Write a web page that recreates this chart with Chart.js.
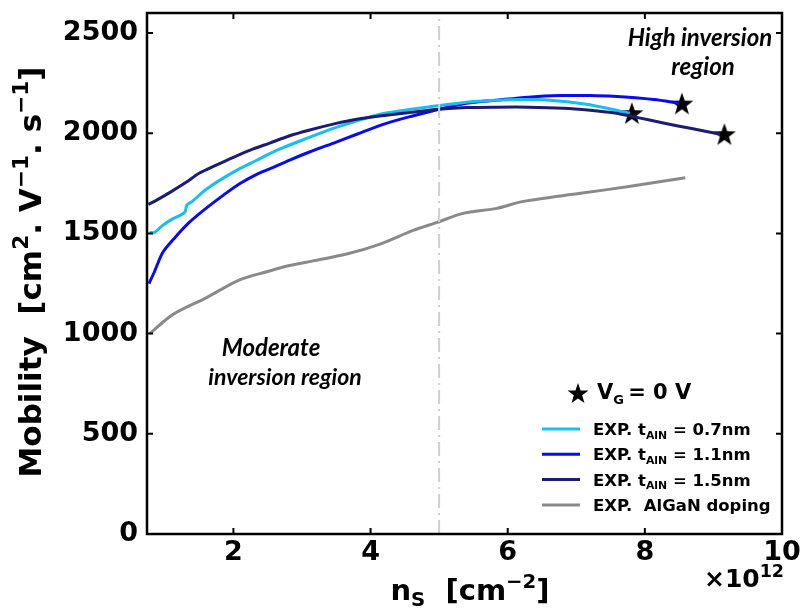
<!DOCTYPE html>
<html>
<head>
<meta charset="utf-8">
<script src="https://cdn.jsdelivr.net/npm/chart.js@4.4.0/dist/chart.umd.min.js"></script>
<style>
  html, body { margin: 0; background: #fff; }
</style>
</head>
<body>
<canvas id="mob" width="811" height="610"></canvas>
<script>
// ── Data ──────────────────────────────────────────────────────────────────

const X_TICKS = [2, 4, 6, 8, 10];
const Y_TICKS = [0, 500, 1000, 1500, 2000, 2500];

// EXP. t_AlN = 0.7nm
const ns07 = [0.78, 0.85, 0.95, 1.10, 1.29, 1.32, 1.40, 1.61, 2.0, 2.34, 2.53, 2.68, 3.0, 3.5, 4.14, 4.5, 5.0, 5.5, 5.84, 6.2, 6.57, 7.15, 7.54, 7.78];
const mu07 = [1505, 1505, 1535, 1570, 1605, 1640, 1660, 1722, 1806, 1865, 1898, 1922, 1965, 2029, 2095, 2115, 2138, 2158, 2165, 2168, 2166, 2145, 2118, 2100];

// EXP. t_AlN = 1.1nm
const ns11 = [0.77, 0.85, 0.97, 1.15, 1.36, 1.6, 1.85, 2.09, 2.34, 2.53, 2.82, 3.1, 3.5, 3.8, 4.23, 4.6, 5.0, 5.4, 5.84, 6.3, 6.76, 7.2, 7.54, 8.13, 8.5];
const mu11 = [1250, 1310, 1405, 1480, 1556, 1625, 1690, 1748, 1795, 1822, 1866, 1905, 1956, 1995, 2049, 2085, 2120, 2150, 2165, 2180, 2188, 2188, 2184, 2168, 2150];

// EXP. t_AlN = 1.5nm
const ns15 = [0.76, 0.9, 1.1, 1.31, 1.5, 1.75, 2.0, 2.29, 2.53, 2.8, 3.1, 3.5, 3.8, 4.23, 4.6, 5.0, 5.4, 5.84, 6.3, 6.81, 7.2, 7.54, 7.9, 8.27, 8.7, 9.1];
const mu15 = [1645, 1670, 1710, 1755, 1800, 1841, 1880, 1922, 1951, 1985, 2015, 2049, 2070, 2090, 2105, 2120, 2128, 2130, 2130, 2125, 2115, 2102, 2078, 2051, 2022, 1995];

// EXP. AlGaN doping
const nsDop = [0.78, 1.12, 1.61, 2.09, 2.5, 2.82, 3.16, 3.65, 4.14, 4.62, 4.97, 5.35, 5.84, 6.23, 7.06, 7.79, 8.59];
const muDop = [1000, 1096, 1180, 1268, 1310, 1340, 1363, 1397, 1447, 1515, 1555, 1600, 1625, 1660, 1700, 1735, 1778];

// V_G = 0 V end points
const nsStar = [7.81, 8.54, 9.16];
const muStar = [2100, 2148, 1995];

// moderate / high inversion boundary
const nsBound = [5, 5];
const muBound = [0, 2600];

const C_07  = '#16bff0';
const C_11  = '#0a0af0';
const C_15  = '#1c1c72';
const C_DOP = '#8a8a8a';

const pts = (xs, ys) => xs.map((x, i) => ({ x, y: ys[i] }));

// ── Star marker ───────────────────────────────────────────────────────────

function makeStar(size) {
  const c = document.createElement('canvas');
  c.width = c.height = size;
  const g = c.getContext('2d');
  const R = size / 2, r = R * 0.4;
  g.fillStyle = '#000';
  g.beginPath();
  for (let i = 0; i < 10; i++) {
    const a = -Math.PI / 2 + i * Math.PI / 5;
    const rr = i % 2 ? r : R;
    g.lineTo(R + rr * Math.cos(a), R + 1 + rr * Math.sin(a));
  }
  g.closePath();
  g.fill();
  return c;
}
const STAR = makeStar(24);
const STAR_SMALL = makeStar(22);

// ── Rich text helper (sub / superscripts) ─────────────────────────────────

function richWidth(ctx, parts, size, fam, k) {
  let w = 0;
  parts.forEach(p => {
    const s = p[1] ? size * k : size;
    ctx.font = `bold ${s}px ${fam}`;
    w += ctx.measureText(p[0]).width;
  });
  return w;
}

function drawRich(ctx, parts, x, y, size, fam, align, k = 0.62) {
  const w = richWidth(ctx, parts, size, fam, k);
  let cx = align === 'center' ? x - w / 2 : x;
  ctx.textBaseline = 'alphabetic';
  ctx.textAlign = 'left';
  parts.forEach(p => {
    const s = p[1] ? size * k : size;
    ctx.font = `bold ${s}px ${fam}`;
    const dy = p[1] === 1 ? -size * 0.42 : p[1] === -1 ? size * 0.22 : 0;
    ctx.fillText(p[0], cx, y + dy);
    cx += ctx.measureText(p[0]).width;
  });
}

const DV = "'DejaVu Sans'";

// ── Frame, inward ticks, labels, legend ───────────────────────────────────

const decor = {
  id: 'decor',
  afterDatasetsDraw(chart) {
    const { ctx, chartArea: a, scales: { x, y } } = chart;
    ctx.save();
    ctx.strokeStyle = '#000';
    ctx.lineWidth = 2.5;
    ctx.strokeRect(a.left, a.top, a.right - a.left, a.bottom - a.top);

    ctx.lineWidth = 2;
    ctx.beginPath();
    X_TICKS.slice(0, -1).forEach(v => {
      const px = x.getPixelForValue(v);
      ctx.moveTo(px, a.bottom); ctx.lineTo(px, a.bottom - 6);
      ctx.moveTo(px, a.top);    ctx.lineTo(px, a.top + 6);
    });
    Y_TICKS.slice(1).forEach(v => {
      const py = y.getPixelForValue(v);
      ctx.moveTo(a.left, py);  ctx.lineTo(a.left + 6, py);
      ctx.moveTo(a.right, py); ctx.lineTo(a.right - 6, py);
    });
    ctx.stroke();

    ctx.fillStyle = '#000';
    // axis titles
    drawRich(ctx, [['n', 0], ['S', -1], ['  [cm', 0], ['−2', 1], [']', 0]], 470, 600, 29, DV, 'center', 0.68);
    drawRich(ctx, [['×10', 0], ['12', 1]], 744, 587, 25, DV, 'center', 0.7);

    ctx.save();
    ctx.translate(41, 272);
    ctx.rotate(-Math.PI / 2);
    drawRich(ctx, [['Mobility  [cm', 0], ['2', 1], ['. V', 0], ['−1', 1], ['. s', 0], ['−1', 1], [']', 0]], 0, 0, 31, DV, 'center', 0.7);
    ctx.restore();

    // region notes
    ctx.font = "italic bold 24px Lato";
    ctx.textAlign = 'center';
    ctx.textBaseline = 'middle';
    ctx.fillText('High inversion', 700, 38);
    ctx.fillText('region', 703, 67);
    ctx.fillText('Moderate', 271, 348);
    ctx.font = "italic bold 23px Lato";
    ctx.fillText('inversion region', 285, 378);

    // legend
    ctx.drawImage(STAR_SMALL, 567, 382);
    drawRich(ctx, [['V', 0], ['G', -1], ['\u2009= 0 V', 0]], 597, 399, 21, DV, 'left', 0.62);

    const rows = [
      [C_07,  [['EXP. t', 0], ['AlN', -1], [' = 0.7nm', 0]]],
      [C_11,  [['EXP. t', 0], ['AlN', -1], [' = 1.1nm', 0]]],
      [C_15,  [['EXP. t', 0], ['AlN', -1], [' = 1.5nm', 0]]],
      [C_DOP, [['EXP.  AlGaN doping', 0]]],
    ];
    rows.forEach((r, i) => {
      const ly = 429 + i * 25.3;
      ctx.strokeStyle = r[0];
      ctx.lineWidth = 3;
      ctx.beginPath();
      ctx.moveTo(542, ly); ctx.lineTo(580, ly);
      ctx.stroke();
      ctx.fillStyle = '#000';
      drawRich(ctx, r[1], 593, ly + 6, 16.5, DV, 'left', 0.66);
    });
    ctx.restore();
  },
};

// ── Chart ─────────────────────────────────────────────────────────────────

const line = (data, color) => ({
  data, borderColor: color, borderWidth: 3, pointRadius: 0,
  tension: 0.3, fill: false, showLine: true,
});

const tickFont = { family: 'DejaVu Sans', weight: 'bold', size: 27 };

new Chart(document.getElementById('mob'), {
  type: 'scatter',
  data: {
    datasets: [
      { data: pts(nsBound, muBound), showLine: true, borderColor: '#cfcfcf', borderWidth: 2,
        borderDash: [14, 5, 2, 5], pointRadius: 0 },
      line(pts(nsDop, muDop), C_DOP),
      line(pts(ns15, mu15), C_15),
      line(pts(ns07, mu07), C_07),
      line(pts(ns11, mu11), C_11),
      { data: pts(nsStar, muStar), pointStyle: STAR, pointRadius: 12, showLine: false },
    ],
  },
  options: {
    responsive: false,
    animation: false,
    layout: { padding: { top: 13, right: 29, left: 0, bottom: 0 } },
    plugins: { legend: { display: false }, tooltip: { enabled: false } },
    scales: {
      x: {
        type: 'linear', min: 0.74, max: 10,
        afterBuildTicks: s => { s.ticks = X_TICKS.map(v => ({ value: v })); },
        afterFit: s => { s.height = 76; s.paddingLeft = 0; s.paddingRight = 0; },
        grid: { display: false, drawTicks: false },
        border: { display: false },
        ticks: { color: '#000', padding: 3, font: tickFont, callback: v => String(v) },
      },
      y: {
        type: 'linear', min: 0, max: 2600,
        afterBuildTicks: s => { s.ticks = Y_TICKS.map(v => ({ value: v })); },
        afterFit: s => { s.width = 147; s.paddingTop = 0; s.paddingBottom = 0; },
        grid: { display: false, drawTicks: false },
        border: { display: false },
        ticks: { color: '#000', padding: 9, font: tickFont, callback: v => String(v) },
      },
    },
  },
  plugins: [decor],
});
</script>
</body>
</html>
